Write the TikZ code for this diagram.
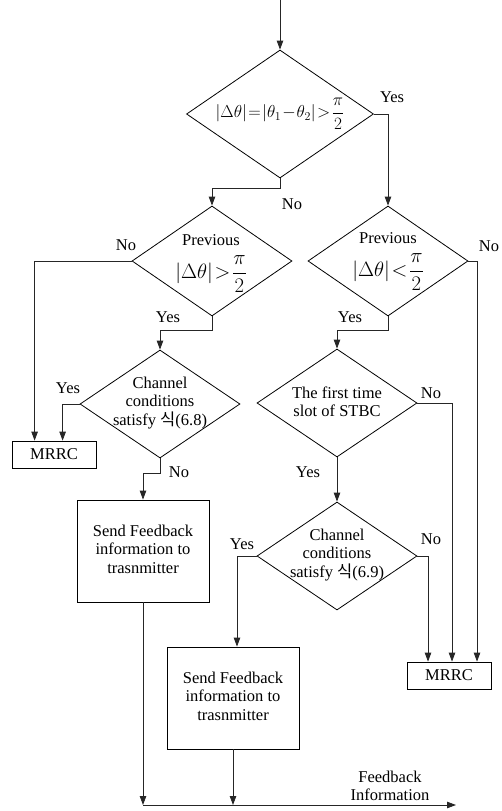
\documentclass[tikz,border=0pt]{standalone}
\usepackage{fontspec}
\setmainfont{Liberation Serif}
\newfontfamily\kr{Noto Sans CJK KR}
\usetikzlibrary{shapes.geometric,arrows.meta}
\newcommand{\bv}[1]{\Bigl|#1\Bigr|}
\newcommand{\tightmath}{\thickmuskip=1.5mu\relax\medmuskip=1mu\relax}
\begin{document}
\begin{tikzpicture}[x=1pt,y=-1pt,
  ln/.style={draw=black!85, line width=0.8pt},
  arr/.style={ln, -{Triangle[length=9pt,width=6.5pt]}},
  dia/.style={draw=black, line width=0.8pt, diamond, inner sep=0pt, minimum width=160pt, minimum height=108pt},
  box/.style={draw=black, line width=0.8pt, rectangle, inner sep=0pt, minimum width=132pt, minimum height=102pt},
  mbox/.style={draw=black, line width=0.8pt, rectangle, inner sep=0pt, minimum width=84pt, minimum height=27pt},
  txt/.style={font=\fontsize{16.5}{18.5}\selectfont, align=center, inner sep=0pt},
  mth/.style={font=\fontsize{20}{22}\selectfont, inner sep=0pt},
  mthtop/.style={font=\fontsize{17.5}{20}\selectfont, inner sep=0pt}]
\useasboundingbox (0,0) rectangle (502,811);

% shapes
\node[dia, minimum width=187pt, minimum height=128pt] (d1) at (280,114) {};
\node[dia, minimum height=110pt] (dL1) at (212,261) {};
\node[dia, minimum height=110pt] (dR1) at (388,261) {};
\node[dia] (dL2) at (160,404) {};
\node[dia] (dR2) at (337,403) {};
\node[dia] (dR3) at (337,556) {};
\node[mbox] (mrrcL) at (54,454.5) {};
\node[mbox] (mrrcR) at (449,675.5) {};
\node[box] (boxL) at (143,551) {};
\node[box] (boxR) at (233,698) {};

% texts inside shapes
\node[mthtop] (t1) at (280,114) {$\tightmath\displaystyle\bv{\Delta\theta}=\bv{\theta_1-\theta_2}>\frac{\pi}{2}$};
\node[txt] (tL1a) at (211,240) {Previous};
\node[mth] (tL1b) at (211,274) {$\tightmath\displaystyle\bv{\Delta\theta}>\frac{\pi}{2}$};
\node[txt] (tR1a) at (388,238) {Previous};
\node[mth] (tR1b) at (388,272) {$\tightmath\displaystyle\bv{\Delta\theta}<\frac{\pi}{2}$};
\node[txt] (tL2) at (160,403) {Channel\\conditions\\satisfy {\kr 식}(6.8)};
\node[txt] (tR2) at (337,402) {The first time\\slot of STBC};
\node[txt] (tR3) at (337,555) {Channel\\conditions\\satisfy {\kr 식}(6.9)};
\node[txt] (tBL) at (143,549) {Send Feedback\\information to\\trasnmitter};
\node[txt] (tBR) at (233,696) {Send Feedback\\information to\\trasnmitter};
\node[txt] (tmL) at (54,454.5) {MRRC};
\node[txt] (tmR) at (449,675.5) {MRRC};

% branch labels
\node[txt] (y1) at (392,97) {Yes};
\node[txt] (n1) at (292,204) {No};
\node[txt] (n2) at (126,245) {No};
\node[txt] (n3) at (489,246) {No};
\node[txt] (y2) at (168,317) {Yes};
\node[txt] (y3) at (350,317) {Yes};
\node[txt] (y4) at (68,388) {Yes};
\node[txt] (n4) at (431,393) {No};
\node[txt] (y5) at (308,472) {Yes};
\node[txt] (n5) at (179,472) {No};
\node[txt] (y6) at (242,544) {Yes};
\node[txt] (n6) at (431,539) {No};
\node[txt] (fb) at (390,786) {Feedback\\Information};

% connectors
\coordinate (top) at (280,0);
\coordinate (fbS) at (143,805);
\coordinate (fbE) at (456,805);
\draw[arr] (top) -- (d1.north);
\draw[arr] (d1.east) -| (dR1.north);
\draw[arr] (d1.south) -- ++(0,10) -| (dL1.north);
\draw[arr] (dL1.west) -| ([xshift=23pt]mrrcL.north west);
\draw[arr] (dL1.south) -- ++(0,14) -| (dL2.north);
\draw[arr] (dL2.west) -| ([xshift=51pt]mrrcL.north west);
\draw[arr] (dL2.south) -- ++(0,15) -| (boxL.north);
\draw[arr] (boxL.south) -- (fbS);
\draw[arr] (dR1.east) -| ([xshift=28pt]mrrcR.north);
\draw[arr] (dR1.south) -- ++(0,14) -| (dR2.north);
\draw[arr] (dR2.east) -| ([xshift=3pt]mrrcR.north);
\draw[arr] (dR2.south) -- (dR3.north);
\draw[arr] (dR3.east) -| ([xshift=-21pt]mrrcR.north);
\draw[arr] (dR3.west) -| ([xshift=4pt]boxR.north);
\draw[arr] (boxR.south) -- (boxR.south |- fbS);
\draw[arr] (fbS) -- (fbE);
\end{tikzpicture}
\end{document}
